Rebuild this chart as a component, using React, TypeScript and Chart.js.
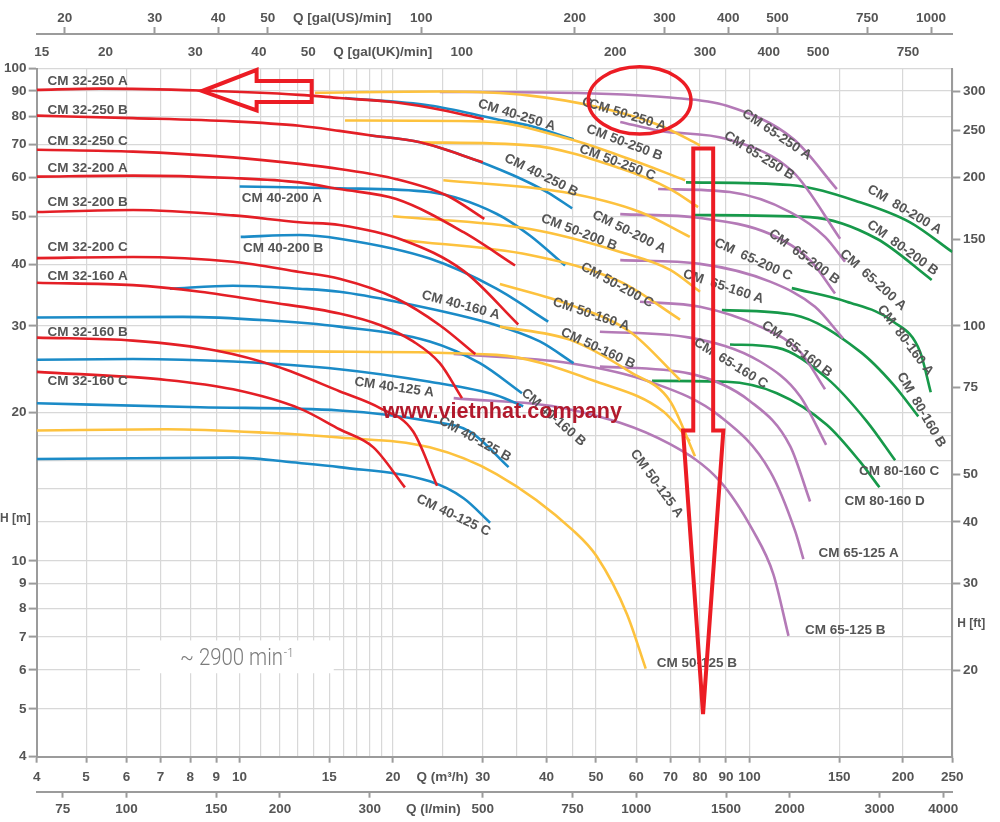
import React, { useEffect, useRef } from "react";
import { Chart, registerables } from "chart.js";

Chart.register(...registerables);

type Pt = [number, number];

// ---------- Pump curves: [Q (m³/h), H (m)] ----------
const CM32_250A: Pt[] = [[4, 90.5], [5.32, 91.0], [8.37, 90.2], [13.1, 88.4], [15.7, 87.1], [20.3, 85.3], [25.5, 82.0], [30.1, 78.9]];
const CM32_250B: Pt[] = [[4, 80.2], [6.18, 79.3], [9.71, 78.1], [13.1, 76.5], [15.7, 74.7], [18.0, 73.2], [22.6, 70.8], [30.0, 64.5]];
const CM32_250C: Pt[] = [[4, 68.4], [6.18, 67.8], [9.71, 66.0], [13.1, 64.0], [15.7, 62.5], [20.3, 59.6], [25.5, 55.2], [30.2, 49.5]];
const CM32_200A: Pt[] = [[4, 60.3], [6.18, 60.6], [9.71, 59.9], [13.1, 58.7], [15.7, 56.9], [20.3, 54.3], [27.5, 46.5], [34.7, 39.8]];
const CM32_200B: Pt[] = [[4, 51.1], [6.18, 51.6], [9.71, 50.3], [13.1, 48.7], [15.7, 48.1], [20.95, 44.8], [27.5, 38.8], [35.2, 30.2]];
const CM32_200C: Pt[] = [[4, 41.2], [6.18, 41.4], [9.71, 40.5], [13.1, 38.6], [15.7, 37.4], [20.3, 34.1], [24.7, 30.1], [29.0, 26.3]];
const CM32_160A: Pt[] = [[4, 36.7], [6.18, 36.3], [8.37, 35.2], [11.3, 33.6], [15.7, 31.8], [18.9, 30.1], [21.9, 27.9], [24.7, 25.2], [27.3, 21.4]];
const CM32_160B: Pt[] = [[4, 28.4], [6.18, 28.0], [9.03, 26.7], [11.84, 24.8], [15.7, 22.1], [18.9, 20.4], [21.9, 18.3], [24.4, 14.2]];
const CM32_160C: Pt[] = [[4, 24.2], [7.19, 23.3], [9.71, 22.3], [13.1, 20.4], [15.7, 18.5], [18.3, 17.0], [21.1, 14.1]];

const CM40_250A: Pt[] = [[16.1, 87.1], [23.6, 84.1], [31.9, 78.9], [37.1, 76.5], [45.2, 71.8]];
const CM40_250B: Pt[] = [[18.0, 73.2], [22.6, 70.8], [27.4, 66.6], [34.4, 60.7], [40.1, 56.1], [44.9, 52.0]];
const CM40_200A: Pt[] = [[10.0, 57.6], [15.7, 57.1], [23.6, 56.1], [31.9, 50.7], [37.1, 45.8], [43.5, 39.8]];
const CM40_200B: Pt[] = [[10.05, 45.5], [13.1, 45.9], [15.7, 45.1], [23.6, 41.1], [31.9, 35.7], [40.3, 30.6]];
const CM40_160A: Pt[] = [[7.3, 35.7], [9.7, 36.2], [13.1, 35.7], [15.7, 35.2], [20.3, 33.6], [31.9, 30.1], [38.8, 27.9], [45.2, 25.2]];
const CM40_160B: Pt[] = [[4, 31.2], [7.74, 31.3], [11.3, 30.8], [15.7, 29.9], [23.6, 27.9], [29.6, 25.2], [35.8, 21.9]];
const CM40_125A: Pt[] = [[4, 25.6], [6.18, 25.7], [9.71, 25.4], [15.7, 24.5], [23.6, 23.1], [31.9, 21.7], [36.0, 20.6]];
const CM40_125B: Pt[] = [[4, 20.9], [8.37, 20.5], [15.7, 20.2], [23.6, 19.2], [28.3, 18.3], [33.7, 15.5]];
const CM40_125C: Pt[] = [[4, 16.1], [9.72, 16.2], [13.1, 15.8], [15.7, 15.5], [23.6, 14.5], [27.5, 13.4], [31.0, 11.95]];

const CM50_250A: Pt[] = [[14.06, 89.3], [24.7, 89.8], [37.1, 88.1], [50.9, 83.3], [66.8, 76.6], [80.0, 69.8]];
const CM50_250B: Pt[] = [[16.1, 78.4], [30.1, 78.1], [44.5, 71.8], [58.3, 65.4], [74.8, 59.3]];
const CM50_250C: Pt[] = [[22.6, 70.8], [37.1, 69.8], [55.8, 62.7], [69.9, 56.9], [79.3, 52.3]];
const CM50_200A: Pt[] = [[25.1, 59.3], [43.1, 56.1], [61.0, 51.1], [76.4, 45.5]];
const CM50_200B: Pt[] = [[20.0, 50.1], [37.1, 47.2], [55.8, 42.4], [69.9, 39.0], [80.0, 35.2]];
const CM50_200C: Pt[] = [[20.95, 44.8], [37.1, 41.8], [55.8, 36.9], [73.1, 30.9]];
const CM50_160A: Pt[] = [[32.4, 36.5], [44.5, 33.1], [58.3, 29.2], [73.1, 23.3]];
const CM50_160B: Pt[] = [[32.4, 29.9], [44.5, 28.1], [58.3, 24.2], [69.9, 21.1], [78.2, 16.3]];
const CM50_125A: Pt[] = [[9.03, 26.7], [15.05, 26.6], [31.9, 26.2], [50.2, 23.1], [67.8, 20.1], [76.4, 17.5]];
const CM50_125B: Pt[] = [[4, 18.4], [7.19, 18.5], [11.3, 18.2], [15.7, 17.8], [23.6, 17.0], [31.9, 15.0], [45.2, 11.5], [50.2, 10.2], [57.5, 7.8], [62.6, 6.04]];

const CM65_250A: Pt[] = [[24.7, 89.6], [42.5, 89.3], [69.9, 87.3], [90.3, 84.0], [122, 71.9], [148.4, 56.9]];
const CM65_250B: Pt[] = [[55.8, 77.9], [66.8, 74.7], [90.3, 71.9], [122, 61.5], [150.6, 45.1]];
const CM65_200A: Pt[] = [[66.2, 56.9], [91.6, 56.1], [120.2, 51.1], [140.7, 45.5], [154, 40.5]];
const CM65_200B: Pt[] = [[55.8, 50.6], [80, 49.7], [109.8, 46.1], [131.5, 40.8], [147.2, 34.9]];
const CM65_200C: Pt[] = [[55.8, 40.8], [80, 40.1], [109.8, 36.9], [134.5, 32.8], [152.6, 28.3]];
const CM65_160A: Pt[] = [[61.0, 33.6], [80, 32.8], [104.9, 29.9], [125.7, 26.6], [140.7, 22.3]];
const CM65_160B: Pt[] = [[50.9, 29.2], [76.4, 28.4], [104.9, 25.4], [125.7, 21.6], [141.4, 17.2]];
const CM65_160C: Pt[] = [[50.9, 24.8], [76.4, 24.0], [100.3, 21.1], [120.2, 17.1], [131.5, 13.2]];
const CM65_125A: Pt[] = [[26.3, 26.3], [44.5, 25.2], [63.8, 23.1], [87.6, 19.65], [109.8, 15.2], [122.9, 11.5], [127.6, 10.08]];
const CM65_125B: Pt[] = [[26.3, 21.4], [44.5, 20.3], [69.9, 17.25], [87.6, 14.5], [101.7, 11.5], [111.4, 9.4], [119.3, 7.04]];

const CM80_200A: Pt[] = [[75.1, 58.7], [120.2, 58.0], [164.8, 53.5], [206.6, 48.7], [250, 42.4]];
const CM80_200B: Pt[] = [[77.6, 50.4], [131.5, 49.9], [177.8, 45.1], [227.8, 37.2]];
const CM80_160A: Pt[] = [[121.1, 35.8], [155.2, 33.6], [191.6, 30.6], [216.1, 26.6], [226.8, 22.0]];
const CM80_160B: Pt[] = [[88.3, 32.3], [122, 31.6], [164.8, 26.6], [191.6, 22.8], [214.4, 19.65]];
const CM80_160C: Pt[] = [[91.6, 27.5], [113.2, 27.1], [141.8, 23.5], [169.9, 19.2], [193.1, 16.0]];
const CM80_160D: Pt[] = [[64.4, 23.2], [90.3, 23.1], [113.2, 21.9], [141.8, 18.9], [164.8, 15.9], [179.9, 14.1]];

// ---------- Axis ticks ----------
const Q_GRID = [4, 5, 6, 7, 8, 9, 10, 11, 12, 13, 14, 15, 16, 17, 18, 19, 20, 25, 30, 35, 40, 45, 50, 60, 70, 80, 90, 100, 150, 200, 250];
const Q_TICKS = [4, 5, 6, 7, 8, 9, 10, 15, 20, 30, 40, 50, 60, 70, 80, 90, 100, 150, 200, 250];
const H_GRID = [4, 5, 6, 7, 8, 9, 10, 12, 14, 16, 18, 20, 30, 40, 50, 60, 70, 80, 90, 100];
const H_TICKS = [4, 5, 6, 7, 8, 9, 10, 20, 30, 40, 50, 60, 70, 80, 90, 100];
const HFT_TICKS = [20, 30, 40, 50, 75, 100, 150, 200, 250, 300];
const LPM_TICKS = [75, 100, 150, 200, 300, 500, 750, 1000, 1500, 2000, 3000, 4000];
const USGPM_TICKS = [20, 30, 40, 50, 100, 200, 300, 400, 500, 750, 1000];
const UKGPM_TICKS = [15, 20, 30, 40, 50, 100, 200, 300, 400, 500, 750];

const Q_TITLE: [number, string] = [25, "Q (m³/h)"];
const LPM_TITLE: [number, string] = [400, "Q (l/min)"];
const US_TITLE: [number, string] = [70, "Q [gal(US)/min]"];
const UK_TITLE: [number, string] = [70, "Q [gal(UK)/min]"];

const Q_MIN = 4, Q_MAX = 250, H_MIN = 4, H_MAX = 100;
const M3H_TO_LPM = 1000 / 60;
const M3H_TO_USGPM = 4.402868;
const M3H_TO_UKGPM = 3.666154;
const M_TO_FT = 10 / 3; // as drawn on the chart's right-hand scale

// ---------- Styles ----------
const RED = "#e41f26";
const BLUE = "#1b8bc7";
const YELLOW = "#fdc23e";
const PURPLE = "#b47ab7";
const GREEN = "#17994a";
const GRID = "#d8d8d8";
const AXIS = "#9b9b9b";
const TEXT = "#555555";
const FONT_FAMILY = '"Liberation Sans", Arial, Helvetica, sans-serif';

interface Series { name: string; color: string; data: Pt[] }
const SERIES: Series[] = [
  { name: "CM 32-250 A", color: RED, data: CM32_250A },
  { name: "CM 32-250 B", color: RED, data: CM32_250B },
  { name: "CM 32-250 C", color: RED, data: CM32_250C },
  { name: "CM 32-200 A", color: RED, data: CM32_200A },
  { name: "CM 32-200 B", color: RED, data: CM32_200B },
  { name: "CM 32-200 C", color: RED, data: CM32_200C },
  { name: "CM 32-160 A", color: RED, data: CM32_160A },
  { name: "CM 32-160 B", color: RED, data: CM32_160B },
  { name: "CM 32-160 C", color: RED, data: CM32_160C },
  { name: "CM 50-250 A", color: YELLOW, data: CM50_250A },
  { name: "CM 50-250 B", color: YELLOW, data: CM50_250B },
  { name: "CM 50-250 C", color: YELLOW, data: CM50_250C },
  { name: "CM 50-200 A", color: YELLOW, data: CM50_200A },
  { name: "CM 50-200 B", color: YELLOW, data: CM50_200B },
  { name: "CM 50-200 C", color: YELLOW, data: CM50_200C },
  { name: "CM 50-160 A", color: YELLOW, data: CM50_160A },
  { name: "CM 50-160 B", color: YELLOW, data: CM50_160B },
  { name: "CM 50-125 A", color: YELLOW, data: CM50_125A },
  { name: "CM 50-125 B", color: YELLOW, data: CM50_125B },
  { name: "CM 40-250 A", color: BLUE, data: CM40_250A },
  { name: "CM 40-250 B", color: BLUE, data: CM40_250B },
  { name: "CM 40-200 A", color: BLUE, data: CM40_200A },
  { name: "CM 40-200 B", color: BLUE, data: CM40_200B },
  { name: "CM 40-160 A", color: BLUE, data: CM40_160A },
  { name: "CM 40-160 B", color: BLUE, data: CM40_160B },
  { name: "CM 40-125 A", color: BLUE, data: CM40_125A },
  { name: "CM 40-125 B", color: BLUE, data: CM40_125B },
  { name: "CM 40-125 C", color: BLUE, data: CM40_125C },
  { name: "CM 65-250 A", color: PURPLE, data: CM65_250A },
  { name: "CM 65-250 B", color: PURPLE, data: CM65_250B },
  { name: "CM 65-200 A", color: PURPLE, data: CM65_200A },
  { name: "CM 65-200 B", color: PURPLE, data: CM65_200B },
  { name: "CM 65-200 C", color: PURPLE, data: CM65_200C },
  { name: "CM 65-160 A", color: PURPLE, data: CM65_160A },
  { name: "CM 65-160 B", color: PURPLE, data: CM65_160B },
  { name: "CM 65-160 C", color: PURPLE, data: CM65_160C },
  { name: "CM 65-125 A", color: PURPLE, data: CM65_125A },
  { name: "CM 65-125 B", color: PURPLE, data: CM65_125B },
  { name: "CM 80-200 A", color: GREEN, data: CM80_200A },
  { name: "CM 80-200 B", color: GREEN, data: CM80_200B },
  { name: "CM 80-160 A", color: GREEN, data: CM80_160A },
  { name: "CM 80-160 B", color: GREEN, data: CM80_160B },
  { name: "CM 80-160 C", color: GREEN, data: CM80_160C },
  { name: "CM 80-160 D", color: GREEN, data: CM80_160D },
];

// Curve labels: text, anchor (Q, H) at text start, rotation in degrees
const CURVE_LABELS: [string, number, number, number][] = [
  ["CM 32-250 A", 4.2, 94.0, 0],
  ["CM 32-250 B", 4.2, 82.4, 0],
  ["CM 32-250 C", 4.2, 71.1, 0],
  ["CM 32-200 A", 4.2, 62.8, 0],
  ["CM 32-200 B", 4.2, 53.5, 0],
  ["CM 32-200 C", 4.2, 43.4, 0],
  ["CM 32-160 A", 4.2, 37.9, 0],
  ["CM 32-160 B", 4.2, 29.1, 0],
  ["CM 32-160 C", 4.2, 23.2, 0],
  ["CM 40-200 A", 10.1, 54.5, 0],
  ["CM 40-200 B", 10.15, 43.2, 0],
  ["CM 40-250 A", 29.4, 84.9, 17],
  ["CM 40-250 B", 33.2, 66.0, 26.5],
  ["CM 40-160 A", 22.8, 34.7, 15],
  ["CM 40-125 A", 16.8, 23.1, 8],
  ["CM 40-125 B", 24.7, 19.35, 29],
  ["CM 40-125 C", 22.3, 13.4, 25.5],
  ["CM 40-160 B", 36.0, 22.1, 41],
  ["C", 47.0, 85.7, 17],
  ["CM 50-250 A", 48.5, 84.9, 17],
  ["CM 50-250 B", 48.0, 75.5, 20.6],
  ["CM 50-250 C", 46.5, 68.8, 20.6],
  ["CM 50-200 A", 49.4, 50.6, 26.5],
  ["CM 50-200 B", 39.1, 49.7, 21],
  ["CM 50-200 C", 46.9, 39.7, 28.6],
  ["CM 50-160 A", 41.2, 33.6, 18.4],
  ["CM 50-160 B", 42.8, 29.2, 24.6],
  ["CM 50-125 A", 59.1, 16.7, 54],
  ["CM 50-125 B", 65.8, 6.18, 0],
  ["CM 65-250 A", 97.3, 81.4, 33.7],
  ["CM 65-250 B", 89.6, 73.4, 31.9],
  ["CM  65-200 C", 85.6, 44.4, 24.7],
  ["CM  65-200 B", 109.8, 46.5, 36],
  ["CM  65-200 A", 151.8, 42.4, 42],
  ["CM  65-160 A", 74.2, 38.3, 18],
  ["CM  65-160 B", 106.5, 30.3, 37],
  ["CM  65-160 C", 78.2, 27.9, 31.7],
  ["CM 65-125 A", 136.6, 10.35, 0],
  ["CM 65-125 B", 128.6, 7.22, 0],
  ["CM  80-200 A", 171.2, 57.1, 30.8],
  ["CM  80-200 B", 171.2, 48.5, 36],
  ["CM  80-160 A", 180.4, 32.8, 53],
  ["CM  80-160 B", 197.4, 24.0, 59.7],
  ["CM 80-160 C", 164.1, 15.2, 0],
  ["CM 80-160 D", 153.6, 13.2, 0],
];

// Annotations (in data coordinates)
const LEFT_ARROW: Pt[] = [[13.85, 94.3], [10.8, 94.3], [10.8, 99.3], [8.44, 90.0], [10.8, 82.2], [10.8, 85.5], [13.85, 85.5]];
const DOWN_ARROW: Pt[] = [[77.6, 68.8], [84.9, 68.8], [84.9, 18.4], [88.9, 18.4], [81.1, 4.88], [74.1, 18.4], [77.6, 18.4]];
const ELLIPSE_BOX = { q0: 48.3, q1: 76.8, h0: 73.6, h1: 100.8 };
const SPEED_BOX = { q0: 6.38, q1: 15.3, h0: 5.91, h1: 6.89 };
const SPEED_TEXT = { q: 7.64, h: 6.13, text: "~ 2900 min", sup: "-1" };
const WATERMARK = { q: 19.1, h: 19.5, text: "www.vietnhat.company" };
const H_M_TITLE = { h: 12.2, text: "H [m]" };
const H_FT_TITLE = { hft: 24.8, text: "H [ft]" };

const near = (list: number[], v: number) => list.some((t) => Math.abs(t - v) < 1e-6);

function tickFont(size = 13.5) {
  return { family: FONT_FAMILY, size, weight: "bold" as const };
}

const overlayPlugin = {
  id: "overlay",
  beforeDatasetsDraw(chart: any) {
    const { ctx } = chart;
    const xs = chart.scales.x, ys = chart.scales.y;
    const x0 = xs.getPixelForValue(SPEED_BOX.q0), x1 = xs.getPixelForValue(SPEED_BOX.q1);
    const y0 = ys.getPixelForValue(SPEED_BOX.h1), y1 = ys.getPixelForValue(SPEED_BOX.h0);
    ctx.save();
    ctx.fillStyle = "#ffffff";
    ctx.fillRect(x0, y0, x1 - x0, y1 - y0);
    const tx = xs.getPixelForValue(SPEED_TEXT.q), ty = ys.getPixelForValue(SPEED_TEXT.h);
    ctx.fillStyle = "#7b7b7b";
    ctx.font = '300 23px Roboto, "Open Sans", sans-serif';
    ctx.textBaseline = "alphabetic";
    ctx.textAlign = "left";
    const w = ctx.measureText(SPEED_TEXT.text).width;
    const sx = 103 / w;
    ctx.translate(tx, ty);
    ctx.scale(sx, 1);
    ctx.fillText(SPEED_TEXT.text, 0, 0);
    ctx.font = '300 13px Roboto, "Open Sans", sans-serif';
    ctx.fillText(SPEED_TEXT.sup, w + 1, -8);
    ctx.restore();
  },
  afterDatasetsDraw(chart: any) {
    const { ctx } = chart;
    const xs = chart.scales.x, ys = chart.scales.y, y2 = chart.scales.y2;
    const P = (q: number, h: number) => [xs.getPixelForValue(q), ys.getPixelForValue(h)];
    ctx.save();
    ctx.font = `bold 13.5px ${FONT_FAMILY}`;
    ctx.fillStyle = TEXT;
    ctx.textBaseline = "middle";
    ctx.textAlign = "left";
    for (const [text, q, h, ang] of CURVE_LABELS) {
      const [px, py] = P(q, h);
      ctx.save();
      ctx.translate(px, py);
      ctx.rotate((ang * Math.PI) / 180);
      ctx.fillText(text, 0, 0);
      ctx.restore();
    }
    ctx.font = `bold 12px ${FONT_FAMILY}`;
    ctx.fillText(H_M_TITLE.text, ys.left, ys.getPixelForValue(H_M_TITLE.h));
    ctx.fillText(H_FT_TITLE.text, y2.left + 5, y2.getPixelForValue(H_FT_TITLE.hft));
    ctx.font = `bold 21.6px ${FONT_FAMILY}`;
    ctx.fillStyle = "#b2192c";
    ctx.textBaseline = "alphabetic";
    const [wx, wy] = P(WATERMARK.q, WATERMARK.h);
    ctx.fillText(WATERMARK.text, wx, wy);
    ctx.strokeStyle = "#ec1c24";
    ctx.lineWidth = 4;
    ctx.lineJoin = "miter";
    for (const poly of [LEFT_ARROW, DOWN_ARROW]) {
      ctx.beginPath();
      poly.forEach(([q, h], i) => {
        const [px, py] = P(q, h);
        if (i === 0) ctx.moveTo(px, py); else ctx.lineTo(px, py);
      });
      ctx.closePath();
      ctx.stroke();
    }
    const ex0 = xs.getPixelForValue(ELLIPSE_BOX.q0), ex1 = xs.getPixelForValue(ELLIPSE_BOX.q1);
    const ey0 = ys.getPixelForValue(ELLIPSE_BOX.h1), ey1 = ys.getPixelForValue(ELLIPSE_BOX.h0);
    ctx.lineWidth = 3.5;
    ctx.beginPath();
    ctx.ellipse((ex0 + ex1) / 2, (ey0 + ey1) / 2, (ex1 - ex0) / 2, (ey1 - ey0) / 2, 0, 0, Math.PI * 2);
    ctx.stroke();
    ctx.restore();
  },
};

function fixedTicks(values: number[]) {
  return (s: any) => {
    s.ticks = values.map((v) => ({ value: v }));
  };
}

export default function App() {
  const ref = useRef<HTMLCanvasElement>(null);
  useEffect(() => {
    const canvas = ref.current;
    if (!canvas) return;
    const datasets = SERIES.map((s) => ({
      label: s.name,
      data: s.data.map(([q, h]) => ({ x: q, y: h })),
      borderColor: s.color,
      backgroundColor: s.color,
      borderWidth: 2.6,
      pointRadius: 0,
      fill: false,
      cubicInterpolationMode: "monotone" as const,
      xAxisID: "x",
      yAxisID: "y",
    }));
    const transparent = "rgba(0,0,0,0)";
    const chart = new Chart(canvas, {
      type: "line",
      data: { datasets },
      plugins: [overlayPlugin],
      options: {
        animation: false,
        responsive: true,
        maintainAspectRatio: false,
        layout: { padding: 0 },
        plugins: { legend: { display: false }, tooltip: { enabled: false } },
        scales: {
          x: {
            type: "logarithmic",
            position: "bottom",
            weight: 1,
            min: Q_MIN,
            max: Q_MAX,
            afterBuildTicks: fixedTicks([...Q_GRID]),
            afterFit: (s: any) => { s.height = 35; },
            grid: {
              color: GRID, lineWidth: 1.2, drawTicks: true, tickLength: 6, tickWidth: 2,
              tickColor: (c: any) => (c.tick && near(Q_TICKS, c.tick.value) ? AXIS : transparent),
            },
            border: { display: true, color: AXIS, width: 2 },
            ticks: {
              autoSkip: false, maxRotation: 0, minRotation: 0, padding: 6,
              font: tickFont(), color: TEXT,
              callback: (v: any) => (near(Q_TICKS, v) ? String(v) : Math.abs(v - Q_TITLE[0]) < 1e-6 ? Q_TITLE[1] : ""),
            },
          },
          xl: {
            type: "logarithmic",
            position: "bottom",
            weight: 2,
            min: Q_MIN * M3H_TO_LPM,
            max: Q_MAX * M3H_TO_LPM,
            afterBuildTicks: fixedTicks([...LPM_TICKS, LPM_TITLE[0]].sort((a, b) => a - b)),
            afterFit: (s: any) => { s.height = 30.3; },
            grid: {
              drawOnChartArea: false, drawTicks: true, tickLength: 6, tickWidth: 2,
              tickColor: (c: any) => (c.tick && near(LPM_TICKS, c.tick.value) ? AXIS : transparent),
            },
            border: { display: true, color: AXIS, width: 2 },
            ticks: {
              autoSkip: false, maxRotation: 0, minRotation: 0, padding: 3,
              font: tickFont(), color: TEXT,
              callback: (v: any) => (near(LPM_TICKS, v) ? String(v) : Math.abs(v - LPM_TITLE[0]) < 1e-6 ? LPM_TITLE[1] : ""),
            },
          },
          xus: {
            type: "logarithmic",
            position: "top",
            weight: 2,
            min: Q_MIN * M3H_TO_USGPM,
            max: Q_MAX * M3H_TO_USGPM,
            afterBuildTicks: fixedTicks([...USGPM_TICKS, US_TITLE[0]].sort((a, b) => a - b)),
            afterFit: (s: any) => { s.height = 34; },
            grid: {
              drawOnChartArea: false, drawTicks: true, tickLength: 7, tickWidth: 2,
              tickColor: (c: any) => (c.tick && near(USGPM_TICKS, c.tick.value) ? AXIS : transparent),
            },
            border: { display: true, color: AXIS, width: 2 },
            ticks: {
              autoSkip: false, maxRotation: 0, minRotation: 0, padding: 1,
              font: tickFont(), color: TEXT,
              callback: (v: any) => (near(USGPM_TICKS, v) ? String(v) : Math.abs(v - US_TITLE[0]) < 1e-6 ? US_TITLE[1] : ""),
            },
          },
          xuk: {
            type: "logarithmic",
            position: "top",
            weight: 1,
            min: Q_MIN * M3H_TO_UKGPM,
            max: Q_MAX * M3H_TO_UKGPM,
            afterBuildTicks: fixedTicks([...UKGPM_TICKS, UK_TITLE[0]].sort((a, b) => a - b)),
            afterFit: (s: any) => { s.height = 34.5; },
            grid: { display: false, drawOnChartArea: false, drawTicks: false, tickLength: 0 },
            border: { display: false },
            ticks: {
              autoSkip: false, maxRotation: 0, minRotation: 0, padding: 8.4,
              font: tickFont(), color: TEXT,
              callback: (v: any) => (near(UKGPM_TICKS, v) ? String(v) : Math.abs(v - UK_TITLE[0]) < 1e-6 ? UK_TITLE[1] : ""),
            },
          },
          y: {
            type: "logarithmic",
            position: "left",
            min: H_MIN,
            max: H_MAX,
            afterBuildTicks: fixedTicks([...H_GRID]),
            afterFit: (s: any) => { s.width = 36.7; },
            grid: {
              color: GRID, lineWidth: 1.2, drawTicks: true, tickLength: 8, tickWidth: 2,
              tickColor: (c: any) => (c.tick && near(H_TICKS, c.tick.value) ? AXIS : transparent),
            },
            border: { display: true, color: AXIS, width: 2 },
            ticks: {
              autoSkip: false, padding: 2.2, font: tickFont(), color: TEXT,
              callback: (v: any) => (near(H_TICKS, v) ? String(v) : ""),
            },
          },
          y2: {
            type: "logarithmic",
            position: "right",
            min: H_MIN * M_TO_FT,
            max: H_MAX * M_TO_FT,
            afterBuildTicks: fixedTicks([...HFT_TICKS]),
            afterFit: (s: any) => { s.width = 47.7; },
            grid: { drawOnChartArea: false, drawTicks: true, tickLength: 8, tickWidth: 2, tickColor: AXIS },
            border: { display: true, color: AXIS, width: 2 },
            ticks: {
              autoSkip: false, padding: 2.7, font: tickFont(), color: TEXT,
              callback: (v: any) => String(v),
            },
          },
        },
      } as any,
    });
    return () => chart.destroy();
  }, []);
  return (
    <div style={{ position: "absolute", left: 0, top: 0, width: 1000, height: 822, background: "#ffffff" }}>
      <canvas ref={ref} />
    </div>
  );
}
